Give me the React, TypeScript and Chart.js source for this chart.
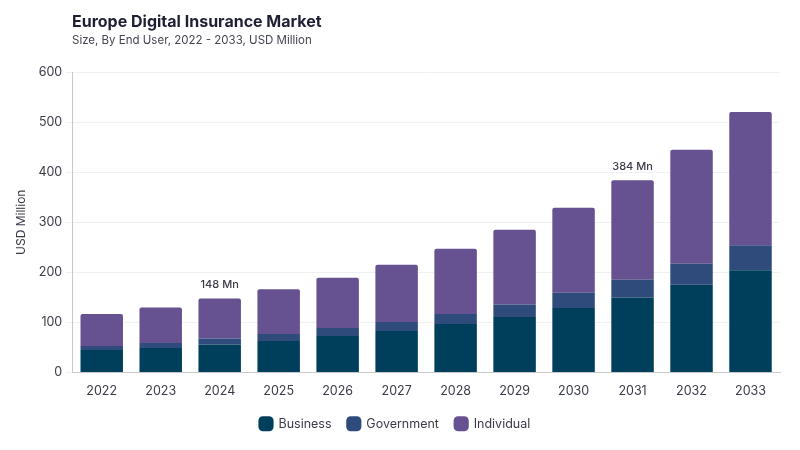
import React, { useEffect, useRef } from 'react';
import { Chart, registerables } from 'chart.js';

Chart.register(...registerables);

const years = ['2022', '2023', '2024', '2025', '2026', '2027', '2028', '2029', '2030', '2031', '2032', '2033'];
const business = [45, 49, 56, 63, 73, 83, 97, 111, 129, 150, 175, 204];
const government = [8, 10, 12, 14, 16, 18, 20, 25, 30, 35, 42, 50];
const individual = [64, 71, 80, 89, 100, 114, 130, 149, 170, 199, 228, 266];

// totals shown above selected bars
const calloutYears = ['2024', '2031'];
const calloutLabels = ['148 Mn', '384 Mn'];

const FONT = 'Inter, "Noto Sans", sans-serif';

const calloutPlugin = {
  id: 'callouts',
  afterDatasetsDraw(chart: any) {
    const { ctx, scales } = chart;
    ctx.save();
    ctx.font = `500 11px ${FONT}`;
    ctx.fillStyle = '#3a3a48';
    ctx.textAlign = 'center';
    ctx.textBaseline = 'bottom';
    calloutYears.forEach((yr, i) => {
      const idx = years.indexOf(yr);
      const total = business[idx] + government[idx] + individual[idx];
      const x = scales.x.getPixelForValue(idx);
      const y = scales.y.getPixelForValue(total);
      ctx.fillText(calloutLabels[i], x, y - 8);
    });
    ctx.restore();
  },
};

const App = () => {
  const canvasRef = useRef<HTMLCanvasElement>(null);
  const chartRef = useRef<Chart | null>(null);

  useEffect(() => {
    document.body.style.margin = '0';
    if (!canvasRef.current) return;
    if (chartRef.current) chartRef.current.destroy();

    chartRef.current = new Chart(canvasRef.current, {
      type: 'bar',
      data: {
        labels: years,
        datasets: [
          { label: 'Business', data: business, backgroundColor: '#003f5c' },
          { label: 'Government', data: government, backgroundColor: '#2f4b7c' },
          {
            label: 'Individual',
            data: individual,
            backgroundColor: '#665191',
            borderRadius: { topLeft: 2, topRight: 2 },
            borderSkipped: false,
          },
        ],
      },
      options: {
        animation: false,
        responsive: true,
        maintainAspectRatio: false,
        layout: { padding: { top: 72, right: 20, left: 10, bottom: 10 } },
        datasets: { bar: { barPercentage: 0.72, categoryPercentage: 1 } },
        plugins: {
          legend: {
            position: 'bottom',
            labels: {
              usePointStyle: true,
              pointStyle: 'rectRounded',
              boxWidth: 14,
              boxHeight: 14,
              padding: 16,
              color: '#3a3a48',
              font: { family: FONT, size: 12.5 },
            },
          },
          tooltip: { enabled: false },
        },
        scales: {
          x: {
            stacked: true,
            grid: { display: false },
            border: { color: '#c8c8cc' },
            ticks: { color: '#3a3a48', font: { family: FONT, size: 12.5 }, padding: 3 },
          },
          y: {
            stacked: true,
            min: 0,
            max: 600,
            ticks: { stepSize: 100, color: '#3a3a48', font: { family: FONT, size: 12.5 }, padding: 4 },
            grid: { color: '#f0f0f2', tickLength: 6 },
            border: { color: '#c8c8cc' },
            title: {
              display: true,
              text: 'USD Million',
              color: '#3a3a48',
              font: { family: FONT, size: 12 },
              padding: { bottom: 6 },
            },
          },
        },
      },
      plugins: [calloutPlugin],
    });

    return () => {
      if (chartRef.current) {
        chartRef.current.destroy();
        chartRef.current = null;
      }
    };
  }, []);

  return (
    <div style={{ position: 'relative', width: 800, height: 450, background: '#fff' }}>
      <div
        style={{
          position: 'absolute',
          left: 72,
          top: 11,
          fontFamily: FONT,
          fontWeight: 700,
          fontSize: 16,
          color: '#1f1f33',
        }}
      >
        Europe Digital Insurance Market
      </div>
      <div
        style={{
          position: 'absolute',
          left: 72,
          top: 33,
          fontFamily: FONT,
          fontSize: 11.5,
          color: '#444450',
        }}
      >
        Size, By End User, 2022 - 2033, USD Million
      </div>
      <canvas ref={canvasRef} />
    </div>
  );
};

export default App;
